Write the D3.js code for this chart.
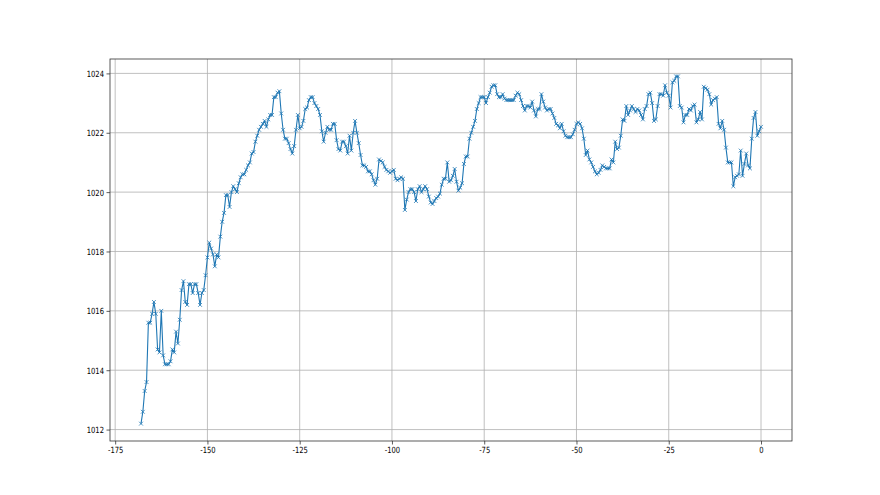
<!DOCTYPE html>
<html>
<head>
<meta charset="utf-8">
<script src="https://cdn.jsdelivr.net/npm/d3@7"></script>
<style>
  html, body { margin: 0; padding: 0; background: #fff; }
  svg { display: block; }
  .tick text { font-family: "DejaVu Sans", sans-serif; font-size: 8.5px; fill: #000; }
</style>
</head>
<body>
<svg id="chart" width="880" height="495"></svg>
<script>
// Time offsets (hours) sampled every half hour from -168 to 0
const hours = d3.range(-168, 0.25, 0.5);

// Pressure readings (hPa)
const pressure = [
  1012.2, 1012.6, 1013.3, 1013.6, 1015.6, 1015.6, 1015.9, 1016.3, 1015.9, 1014.7,
  1014.6, 1016.0, 1014.5, 1014.2, 1014.2, 1014.2, 1014.3, 1014.7, 1014.6, 1015.3,
  1014.9, 1015.7, 1016.7, 1017.0, 1016.3, 1016.2, 1016.9, 1016.9, 1016.6, 1016.9,
  1016.9, 1016.6, 1016.2, 1016.6, 1016.7, 1017.2, 1017.8, 1018.3, 1018.1, 1017.9,
  1017.5, 1017.9, 1017.8, 1018.5, 1019.0, 1019.3, 1019.9, 1019.9, 1019.5, 1020.0,
  1020.2, 1020.1, 1020.0, 1020.3, 1020.5, 1020.6, 1020.6, 1020.75, 1020.9, 1021.0,
  1021.3, 1021.35, 1021.7, 1021.9, 1022.1, 1022.2, 1022.3, 1022.4, 1022.2, 1022.45,
  1022.6, 1022.6, 1023.2, 1023.2, 1023.35, 1023.4, 1022.65, 1022.1, 1021.8, 1021.8,
  1021.65, 1021.45, 1021.3, 1021.55, 1022.1, 1022.6, 1022.15, 1022.2, 1022.4, 1022.8,
  1022.85, 1023.1, 1023.2, 1023.2, 1023.0, 1022.9, 1022.8, 1022.6, 1022.05, 1021.7,
  1022.0, 1022.2, 1022.1, 1022.1, 1022.3, 1022.3, 1021.75, 1021.45, 1021.4, 1021.7,
  1021.7, 1021.55, 1021.3, 1021.9, 1021.4, 1022.0, 1022.4, 1022.0, 1021.65, 1021.25,
  1020.9, 1020.9, 1020.85, 1020.7, 1020.7, 1020.6, 1020.4, 1020.25, 1020.45, 1021.1,
  1021.05, 1021.0, 1020.85, 1020.75, 1020.7, 1020.65, 1020.7, 1020.75, 1020.45, 1020.4,
  1020.45, 1020.5, 1020.45, 1019.4, 1019.75, 1020.0, 1020.1, 1020.1, 1020.0, 1019.7,
  1020.1, 1020.2, 1020.0, 1020.1, 1020.2, 1020.1, 1019.85, 1019.65, 1019.6, 1019.7,
  1019.8, 1019.85, 1019.95, 1020.25, 1020.45, 1020.45, 1021.0, 1020.35, 1020.4, 1020.55,
  1020.78, 1020.35, 1020.05, 1020.15, 1020.3, 1020.95, 1021.2, 1021.2, 1021.8, 1022.0,
  1022.2, 1022.4, 1022.8, 1023.0, 1023.2, 1023.2, 1023.2, 1023.0, 1023.2, 1023.35,
  1023.55, 1023.6, 1023.6, 1023.3, 1023.2, 1023.2, 1023.3, 1023.15, 1023.1, 1023.1,
  1023.1, 1023.1, 1023.1, 1023.25, 1023.35, 1023.3, 1023.1, 1022.9, 1022.75, 1022.9,
  1022.9, 1022.85, 1023.05, 1022.75, 1022.55, 1022.8, 1022.8, 1023.3, 1023.05, 1022.85,
  1022.75, 1022.8, 1022.8, 1022.65, 1022.5, 1022.3, 1022.25, 1022.15, 1022.3, 1022.05,
  1021.9, 1021.85, 1021.85, 1021.85, 1021.95, 1022.1, 1022.3, 1022.35, 1022.3, 1022.15,
  1021.8, 1021.25, 1021.4, 1021.1, 1021.0, 1020.85, 1020.7, 1020.6, 1020.65, 1020.75,
  1020.9, 1020.85, 1020.8, 1020.8, 1020.8, 1021.1, 1021.0, 1021.7, 1021.45, 1021.5,
  1021.9, 1022.45, 1022.4, 1022.9, 1022.6, 1022.75, 1022.9, 1022.8, 1022.7, 1022.8,
  1022.75, 1022.6, 1022.45, 1022.8, 1022.9, 1023.3, 1023.35, 1023.0, 1022.4, 1022.45,
  1022.9, 1023.3, 1023.3, 1023.25, 1023.6, 1023.35, 1023.25, 1022.85, 1023.7, 1023.75,
  1023.9, 1023.9, 1022.9, 1022.85, 1022.35, 1022.6, 1022.6, 1022.8, 1022.75, 1022.9,
  1022.95, 1022.35, 1022.45, 1022.7, 1022.45, 1023.55, 1023.5, 1023.45, 1023.3, 1022.95,
  1023.1, 1023.15, 1023.2, 1022.3, 1022.15, 1022.4, 1022.1, 1021.5, 1021.0, 1021.0,
  1021.0, 1020.2, 1020.5, 1020.55, 1020.6, 1021.4, 1020.55, 1020.95, 1021.3, 1020.9,
  1020.8, 1021.8, 1022.5, 1022.7, 1021.9, 1022.05, 1022.2
];

const xTicks = [-175, -150, -125, -100, -75, -50, -25, 0];
const yTicks = [1012, 1014, 1016, 1018, 1020, 1022, 1024];

const data = hours.map((h, i) => ({ x: h, y: pressure[i] })).filter(d => d.y !== undefined);

const margin = { left: 110, right: 88, top: 59, bottom: 54 };
const W = 880, H = 495;
const iw = W - margin.left - margin.right;
const ih = H - margin.top - margin.bottom;

const xExt = d3.extent(data, d => d.x);
const yExt = d3.extent(data, d => d.y);
const xPad = (xExt[1] - xExt[0]) * 0.05;
const yPad = (yExt[1] - yExt[0]) * 0.05;

const x = d3.scaleLinear().domain([xExt[0] - xPad, xExt[1] + xPad]).range([0, iw]);
const y = d3.scaleLinear().domain([yExt[0] - yPad, yExt[1] + yPad]).range([ih, 0]);

const svg = d3.select("#chart");
svg.append("rect").attr("width", W).attr("height", H).attr("fill", "#fff");
const g = svg.append("g").attr("transform", `translate(${margin.left},${margin.top})`);

// Grid
g.append("g").selectAll("line").data(xTicks).join("line")
  .attr("x1", d => x(d)).attr("x2", d => x(d)).attr("y1", 0).attr("y2", ih)
  .attr("stroke", "#b0b0b0").attr("stroke-width", 0.8);
g.append("g").selectAll("line").data(yTicks).join("line")
  .attr("y1", d => y(d)).attr("y2", d => y(d)).attr("x1", 0).attr("x2", iw)
  .attr("stroke", "#b0b0b0").attr("stroke-width", 0.8);

const fmt = d => String(d).replace("\u2212", "-");
const SX = 0.8;

// Axes
const xAxis = g.append("g").attr("transform", `translate(0,${ih})`)
  .call(d3.axisBottom(x).tickValues(xTicks).tickSize(3.5).tickSizeOuter(0).tickPadding(2.2).tickFormat(fmt));
xAxis.select(".domain").remove();
xAxis.selectAll(".tick line").attr("stroke", "#333").attr("stroke-width", 0.8);
xAxis.selectAll(".tick text").attr("transform", `scale(${SX},1)`);

const yAxis = g.append("g")
  .call(d3.axisLeft(y).tickValues(yTicks).tickSize(3.5).tickSizeOuter(0).tickPadding(2.5).tickFormat(fmt));
yAxis.select(".domain").remove();
yAxis.selectAll(".tick line").attr("stroke", "#333").attr("stroke-width", 0.8);
yAxis.selectAll(".tick text").attr("x", -6 / SX).attr("dy", "0.36em").attr("transform", `scale(${SX},1)`);

// Line
g.append("path").datum(data)
  .attr("fill", "none").attr("stroke", "#1f77b4").attr("stroke-width", 1.1)
  .attr("stroke-linejoin", "round")
  .attr("d", d3.line().x(d => x(d.x)).y(d => y(d.y)));

// Markers
const m = 1.9;
g.append("g").selectAll("path").data(data).join("path")
  .attr("transform", d => `translate(${x(d.x)},${y(d.y)})`)
  .attr("d", `M${-m},${-m}L${m},${m}M${-m},${m}L${m},${-m}`)
  .attr("stroke", "#1f77b4").attr("stroke-width", 0.8).attr("fill", "none");

// Spines
g.append("rect").attr("x", 0).attr("y", 0).attr("width", iw).attr("height", ih)
  .attr("fill", "none").attr("stroke", "#333").attr("stroke-width", 0.8);
</script>
</body>
</html>
